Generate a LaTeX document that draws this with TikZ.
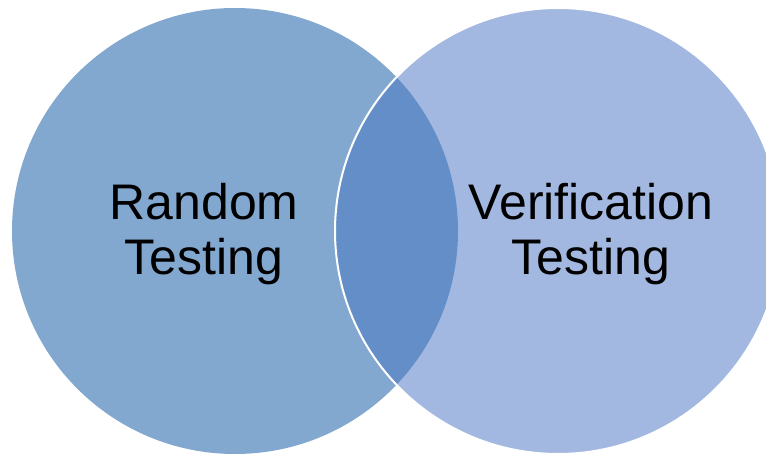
\documentclass[tikz,border=0pt]{standalone}
\usepackage{fontspec}
\setmainfont{Liberation Sans}
\definecolor{leftc}{HTML}{82A8CF}
\definecolor{rightc}{HTML}{A2B8E0}
\definecolor{lensc}{HTML}{648EC8}
\begin{document}
\begin{tikzpicture}[x=1pt,y=-1pt,
  lbl/.style={align=center,font=\fontsize{50}{55}\selectfont,text=black,inner sep=0pt}]
\useasboundingbox (0,0) rectangle (766,454);
\clip (0,0) rectangle (766,454);
\coordinate (cl) at (235,231);
\coordinate (cr) at (558,231);
\fill[leftc] (cl) circle[radius=223];
\fill[rightc] (cr) circle[radius=223];
\begin{scope}
  \clip (cl) circle[radius=223];
  \fill[lensc] (cr) circle[radius=223];
\end{scope}
\draw[white,line width=2] (cr) circle[radius=223];
\node[lbl] (a) at (204,234) {Random\\Testing};
\node[lbl] (b) at (591,234) {Verification\\Testing};
\end{tikzpicture}
\end{document}
